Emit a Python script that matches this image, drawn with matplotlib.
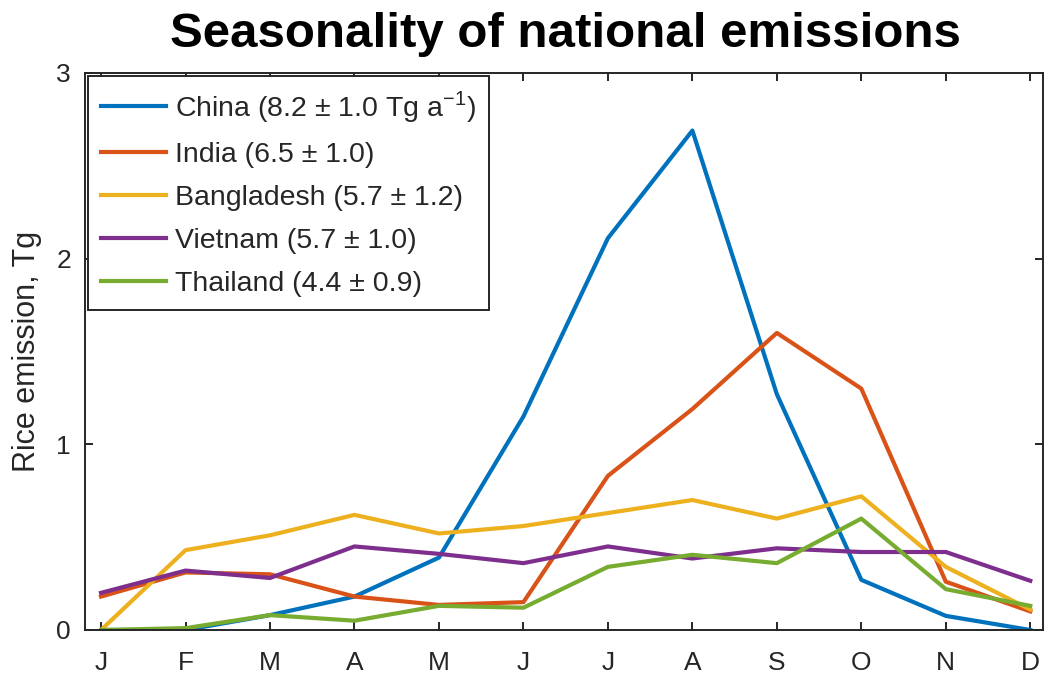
import matplotlib
matplotlib.use("Agg")
import matplotlib.pyplot as plt

months = ["J", "F", "M", "A", "M", "J", "J", "A", "S", "O", "N", "D"]

china = [0.0, 0.0, 0.08, 0.18, 0.39, 1.15, 2.11, 2.69, 1.27, 0.27, 0.076, 0.0]
india = [0.18, 0.31, 0.30, 0.18, 0.135, 0.15, 0.83, 1.19, 1.60, 1.30, 0.26, 0.10]
bangladesh = [0.0, 0.43, 0.51, 0.62, 0.52, 0.56, 0.63, 0.70, 0.60, 0.72, 0.34, 0.11]
vietnam = [0.20, 0.32, 0.28, 0.45, 0.41, 0.36, 0.45, 0.385, 0.44, 0.42, 0.42, 0.265]
thailand = [0.0, 0.01, 0.08, 0.05, 0.13, 0.12, 0.34, 0.405, 0.36, 0.60, 0.22, 0.13]

labels = [
    r"China (8.2 ± 1.0 Tg a$^{\mathregular{-1}}$)",
    "India (6.5 ± 1.0)",
    "Bangladesh (5.7 ± 1.2)",
    "Vietnam (5.7 ± 1.0)",
    "Thailand (4.4 ± 0.9)",
]
colors = ["#0072BD", "#D95319", "#EDB120", "#7E2F8E", "#77AC30"]

plt.rcParams["font.family"] = ["Liberation Sans", "DejaVu Sans"]
plt.rcParams["mathtext.fontset"] = "custom"
plt.rcParams["mathtext.rm"] = "Liberation Sans"

fig = plt.figure(figsize=(10.44, 6.74), dpi=100)
ax = fig.add_axes([0.0814, 0.0653, 0.9176, 0.8264])

x = list(range(1, 13))
for series, lab, col in zip([china, india, bangladesh, vietnam, thailand], labels, colors):
    ax.plot(x, series, color=col, linewidth=3.0, label=lab)

ax.set_xlim(0.81, 12.15)
ax.set_ylim(0, 3)
ax.set_xticks(x)
ax.set_xticklabels(months)
ax.set_yticks([0, 1, 2, 3])

edge = "#262626"
for s in ax.spines.values():
    s.set_color(edge)
    s.set_linewidth(1.4)
ax.tick_params(direction="in", length=6, width=1.4, color=edge, labelcolor=edge,
               labelsize=19, top=True, right=True)
ax.tick_params(axis="x", pad=15)
ax.tick_params(axis="y", pad=10)

ax.set_ylabel("Rice emission, Tg", fontsize=22, color=edge, labelpad=10)

fig.text(0.542, 0.931, "Seasonality of national emissions", ha="center", va="baseline",
         fontsize=35.5, fontweight="bold")

leg = ax.legend(loc="upper left", fontsize=20.5, frameon=True, fancybox=False,
                handlelength=2.3, handletextpad=0.3, labelspacing=0.6,
                borderpad=0.45, borderaxespad=0.1)
leg.get_frame().set_edgecolor(edge)
leg.get_frame().set_linewidth(1.4)
leg.get_frame().set_alpha(1)
for t in leg.get_texts():
    t.set_color(edge)

fig.savefig("out.png", dpi=100)
